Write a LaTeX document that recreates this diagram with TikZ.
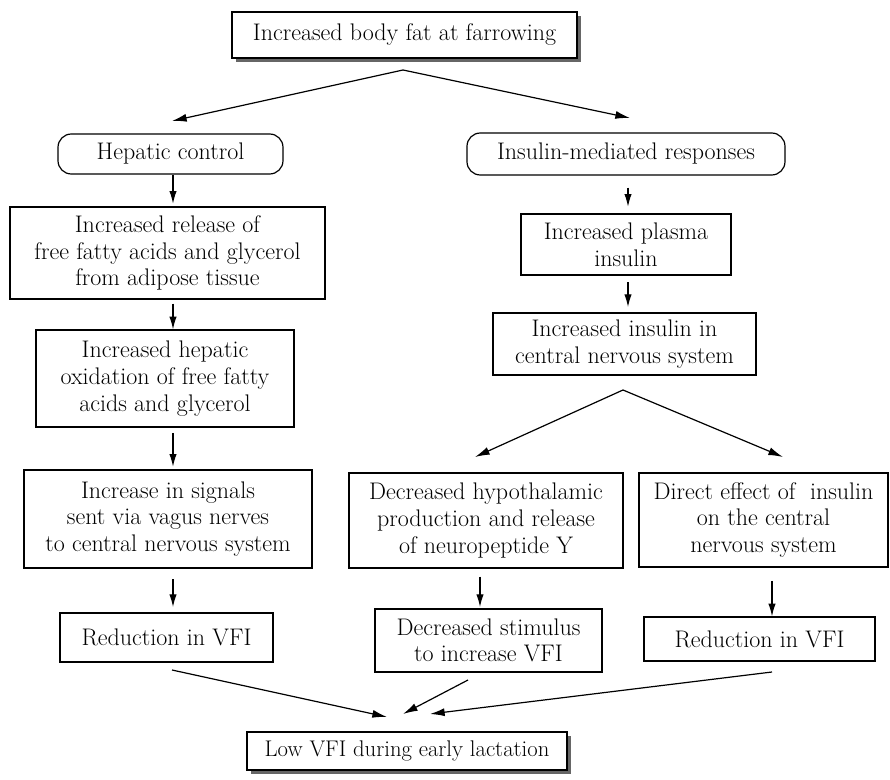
\documentclass[tikz,border=0pt]{standalone}
\usetikzlibrary{arrows.meta,shadows}
\begin{document}
\begin{tikzpicture}[x=0.75pt,y=-0.75pt,
  bx/.style={draw, fill=white, align=center, inner sep=0pt, line width=0.9pt,
             font=\fontsize{18}{20}\selectfont},
  pill/.style={bx, rounded corners=10pt},
  shad/.style={drop shadow={shadow xshift=3pt,shadow yshift=-3pt,fill=black!60,opacity=1}},
  arr/.style={-{Latex[length=9.5pt,width=5.5pt]}, line width=0.9pt},
  darr/.style={-{Latex[length=11pt,width=6pt]}, line width=0.9pt}]
\useasboundingbox (0,0) rectangle (890,780);

% nodes
\node[bx, shad, minimum width=258.75pt, minimum height=34.5pt] (top) at (404.5,35) {Increased body fat at farrowing};
\node[pill, minimum width=168.75pt, minimum height=30pt] (hep) at (170.5,154) {Hepatic control};
\node[pill, minimum width=238.5pt, minimum height=31.5pt] (ins) at (626,154) {Insulin-mediated responses};

\node[bx, minimum width=236.25pt, minimum height=69pt] (r1) at (167.5,253) {Increased release of\\free fatty acids and glycerol\\from adipose tissue};
\node[bx, minimum width=193.5pt, minimum height=72.75pt] (r2) at (165,378.5) {Increased hepatic\\oxidation of free fatty\\acids and glycerol};
\node[bx, minimum width=216pt, minimum height=73.5pt] (r3) at (168,519) {Increase in signals\\sent via vagus nerves\\to central nervous system};
\node[bx, minimum width=159.75pt, minimum height=36.75pt] (r4) at (166.5,637.5) {Reduction in VFI};

\node[bx, minimum width=157.5pt, minimum height=45.75pt] (pl) at (626,244.5) {Increased plasma\\insulin};
\node[bx, minimum width=197.25pt, minimum height=46.5pt] (cns) at (624.5,344) {Increased insulin in\\central nervous system};
\node[bx, minimum width=205.5pt, minimum height=71.25pt] (hyp) at (486,520.5) {Decreased hypothalamic\\production and release\\of neuropeptide Y};
\node[bx, minimum width=186.75pt, minimum height=70.5pt] (dir) at (763.5,520) {Direct effect of \ insulin\\on the central\\nervous system};
\node[bx, minimum width=170.25pt, minimum height=47.25pt] (stim) at (488.5,640.5) {Decreased stimulus\\to increase VFI};
\node[bx, minimum width=173.25pt, minimum height=33pt] (redr) at (759.5,639) {Reduction in VFI};

\node[bx, shad, minimum width=240pt, minimum height=28.5pt, font=\fontsize{17}{19}\selectfont] (low) at (407,751) {Low VFI during early lactation};

% axes for vertical arrows
\coordinate (axL) at (173,0);
\coordinate (axR) at (628,0);
\coordinate (axH) at (480,0);
\coordinate (axD) at (772,0);

\draw[arr, shorten >=2pt] (hep.south -| axL) -- (r1.north -| axL);
\draw[arr, shorten <=3pt] (r1.south -| axL) -- (r2.north -| axL);
\draw[arr, shorten <=4pt, shorten >=2pt] (r2.south -| axL) -- (r3.north -| axL);
\draw[arr, shorten <=8pt, shorten >=4pt] (r3.south -| axL) -- (r4.north -| axL);

\draw[arr, shorten <=9pt, shorten >=5pt] (ins.south -| axR) -- (pl.north -| axR);
\draw[arr, shorten <=5pt, shorten >=4pt] (pl.south -| axR) -- (cns.north -| axR);
\draw[arr, shorten <=6pt, shorten >=1pt] (hyp.south -| axH) -- (stim.north -| axH);
\draw[arr, shorten <=10pt] (dir.south -| axD) -- (redr.north -| axD);

% diagonal arrows
\coordinate (tapex) at (403,70);
\coordinate (tl) at (172,121);
\coordinate (tr) at (630,118);
\draw[darr] (tapex) -- (tl);
\draw[darr] (tapex) -- (tr);

\coordinate (capex) at (623,390);
\coordinate (cl) at (475,457);
\coordinate (cr) at (783,457);
\draw[darr] (capex) -- (cl);
\draw[darr] (capex) -- (cr);

\coordinate (b1) at (172,670);
\coordinate (b2) at (468,680);
\coordinate (b3) at (772,672);
\coordinate (e1) at (387,717);
\coordinate (e2) at (403,714);
\coordinate (e3) at (430,714);
\draw[darr] (b1) -- (e1);
\draw[darr] (b2) -- (e2);
\draw[darr] (b3) -- (e3);
\end{tikzpicture}
\end{document}
